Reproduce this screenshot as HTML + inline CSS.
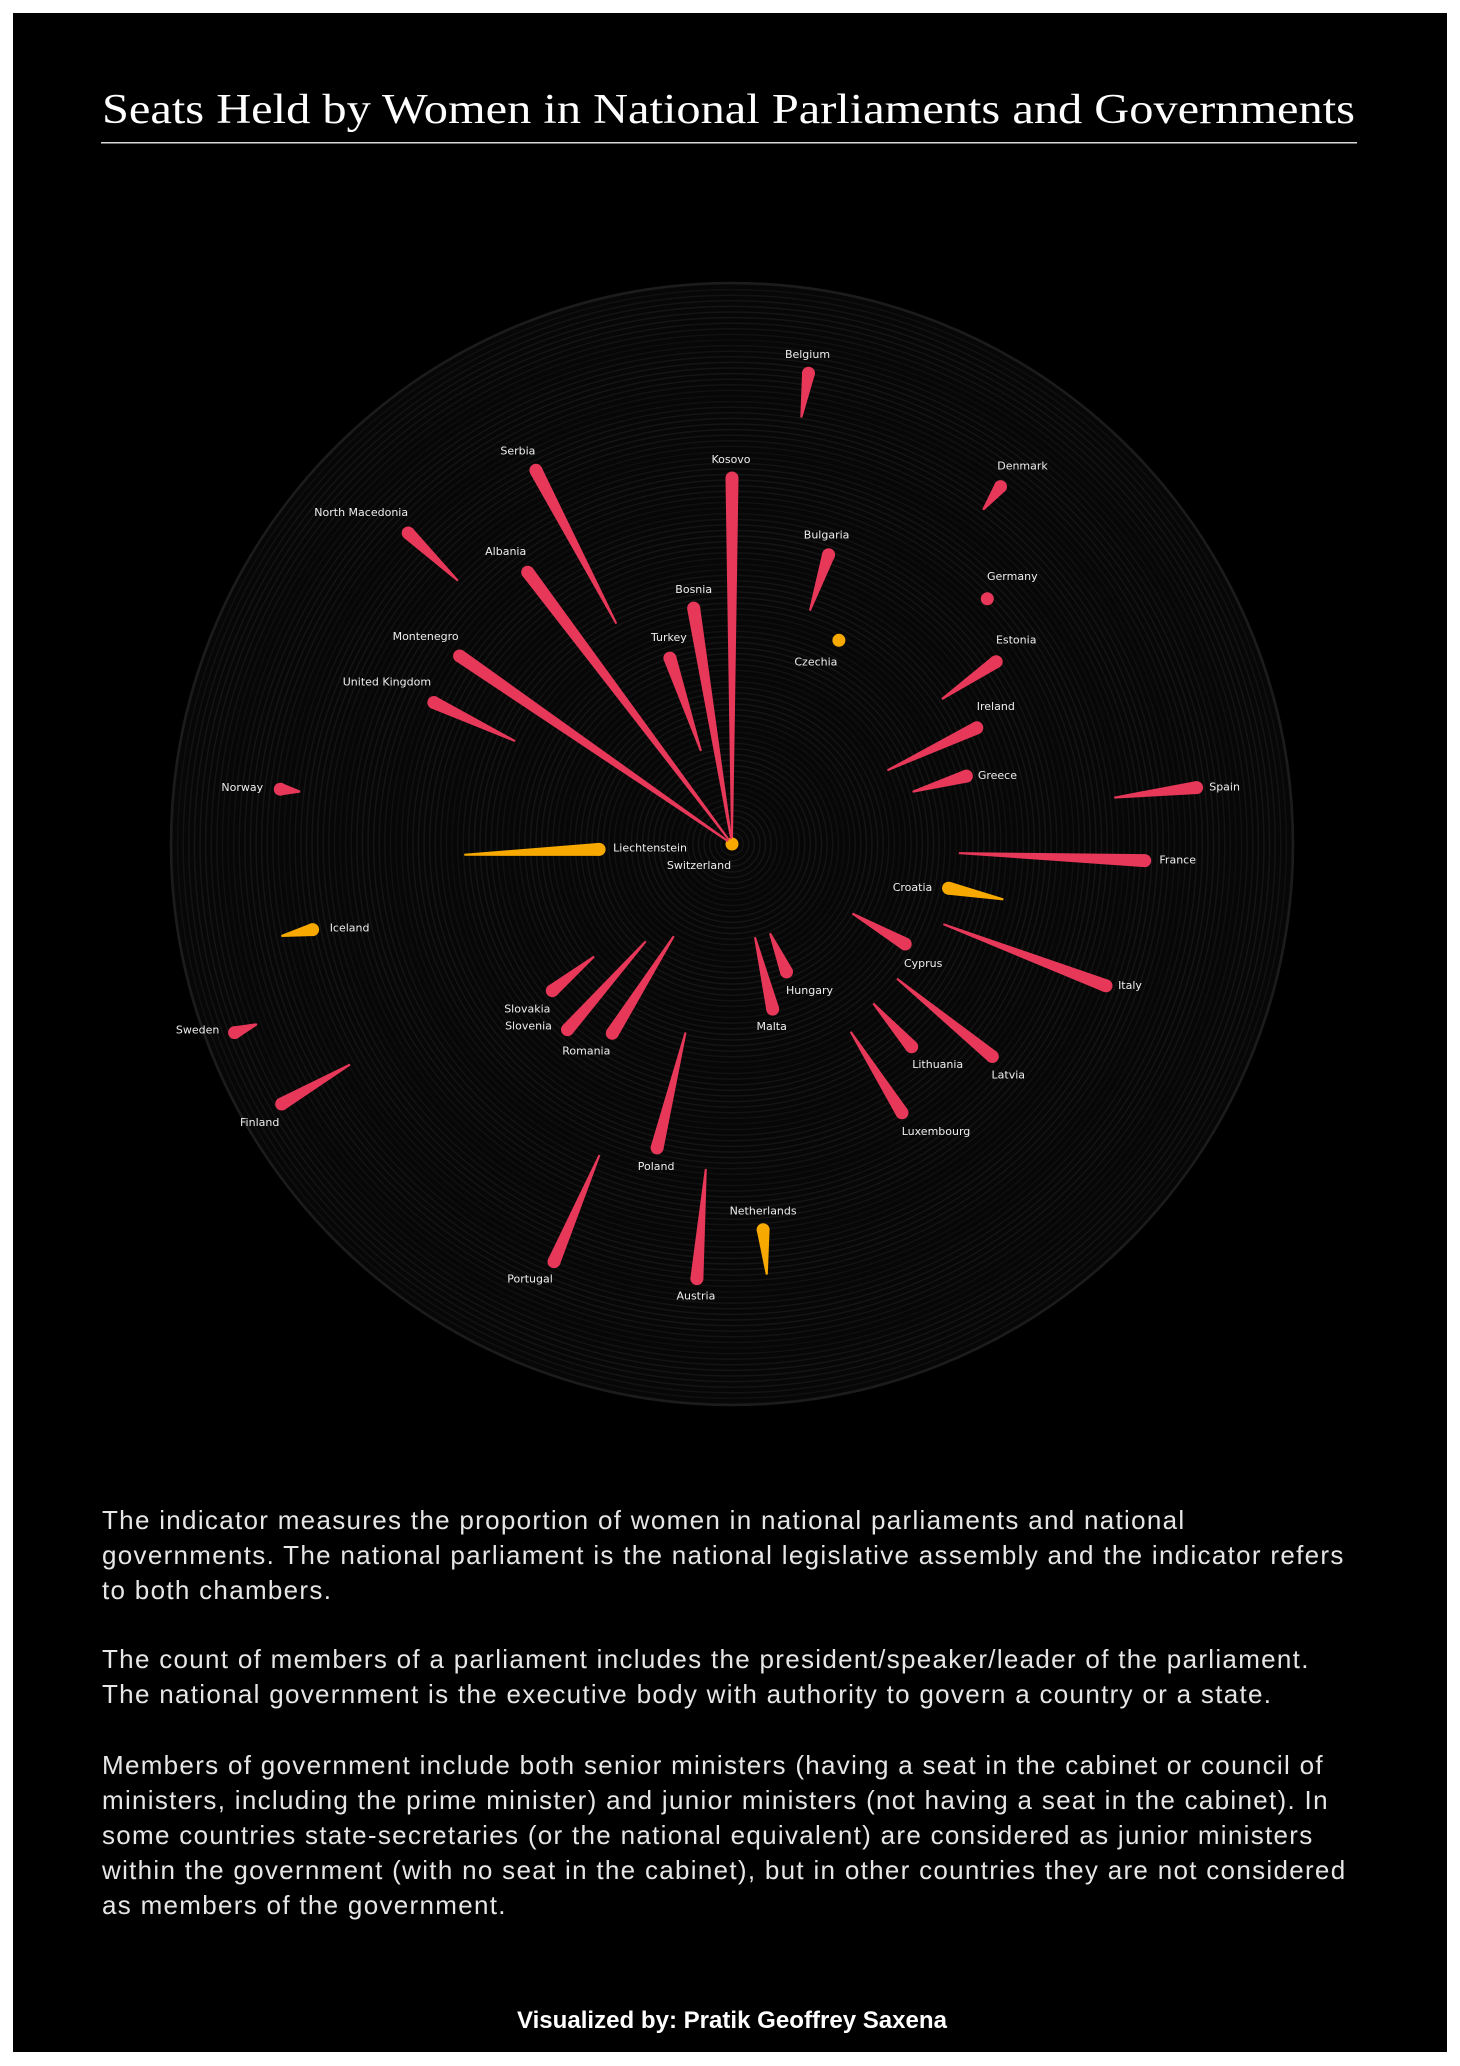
<!DOCTYPE html>
<html><head><meta charset="utf-8">
<style>
html,body{margin:0;padding:0;background:#fff;}
#page{position:absolute;left:13px;top:13px;width:1434px;height:2039px;background:#000;overflow:hidden;}
#chart{position:absolute;left:-13px;top:-13px;}
.para{position:absolute;left:89px;color:#e6e6e6;font-family:"Liberation Sans",sans-serif;font-size:26px;line-height:35px;white-space:nowrap;letter-spacing:1.3px;}
</style></head>
<body>
<div id="page">
<svg id="chart" width="1460" height="2066">
  <text x="102" y="123" font-family="'Liberation Serif',serif" font-size="42" fill="#fff" textLength="1253" lengthAdjust="spacingAndGlyphs">Seats Held by Women in National Parliaments and Governments</text>
  <rect x="101" y="142" width="1256" height="1.5" fill="#d8d8d8"/>
  <g id="rings"></g>
  <g id="marks"></g>
  <g id="labels"></g>
  <text x="732" y="2028" text-anchor="middle" font-family="'Liberation Sans',sans-serif" font-weight="bold" font-size="24" fill="#fff" textLength="430" lengthAdjust="spacingAndGlyphs">Visualized by: Pratik Geoffrey Saxena</text>
</svg>
<div class="para" style="top:1490px">The indicator measures the proportion of women in national parliaments and national<br>governments. The national parliament is the national legislative assembly and the indicator refers<br>to both chambers.</div>
<div class="para" style="top:1629px">The count of members of a parliament includes the president/speaker/leader of the parliament.<br>The national government is the executive body with authority to govern a country or a state.</div>
<div class="para" style="top:1735px">Members of government include both senior ministers (having a seat in the cabinet or council of<br>ministers, including the prime minister) and junior ministers (not having a seat in the cabinet). In<br>some countries state-secretaries (or the national equivalent) are considered as junior ministers<br>within the government (with no seat in the cabinet), but in other countries they are not considered<br>as members of the government.</div>
</div>
<script>
const countries = ["Kosovo","Belgium","Bulgaria","Czechia","Denmark","Germany","Estonia","Ireland","Greece","Spain","France","Croatia","Italy","Cyprus","Latvia","Lithuania","Luxembourg","Hungary","Malta","Netherlands","Austria","Poland","Portugal","Romania","Slovenia","Slovakia","Finland","Sweden","Iceland","Liechtenstein","Norway","Switzerland","United Kingdom","Montenegro","North Macedonia","Albania","Serbia","Turkey","Bosnia"];
const parliament = [36.6,47.7,30.5,23.0,44.7,35.4,32.1,27.1,24.4,46.8,41.3,22.1,40.0,20.0,33.6,27.1,31.8,13.9,17.0,38.7,43.6,31.3,45.4,22.4,24.8,23.2,52.0,53.2,42.8,13.3,45.5,0.0,33.0,33.1,44.9,34.0,42.2,19.6,23.9];
const government = [0.5,43.2,24.6,23.1,41.8,35.0,25.5,17.2,18.8,38.5,22.7,27.7,22.6,13.9,21.3,21.3,22.2,9.7,9.6,43.2,32.6,19.4,33.8,10.9,13.0,17.8,44.1,50.8,46.0,26.8,43.5,0.1,24.0,0.5,38.0,0.5,24.9,9.8,0.5];
const labelDx = [-1,-1,-2,-23,22,25,20,19,31,28,33,-36,24,18,16,26,34,23,-1,0,-1,-1,-24,-26,-39,-25,-22,-37,37,51,-38,-33,-47,-34,-47,-22,-18,-1,0];
const labelDy = [-18,-18,-19,22,-20,-22,-21,-21,0,0,0,0,0,20,19,18,19,19,18,-18,18,19,18,18,-3,19,19,-2,-1,-1,-1,22,-20,-19,-20,-20,-19,-20,-18];

const NS="http://www.w3.org/2000/svg";
const cx=732, cy=844, Rmax=561;
const rScale = v => v*10;
const angle = i => i*2*Math.PI/countries.length;

const rings=document.getElementById('rings');
const bg=document.createElementNS(NS,'circle');
bg.setAttribute('cx',cx);bg.setAttribute('cy',cy);bg.setAttribute('r',Rmax);bg.setAttribute('fill','#070707');


rings.appendChild(bg);
for(let k=1;k*5.6<=Rmax;k++){
  const r=k*5.6;
  const c=document.createElementNS(NS,'circle');
  c.setAttribute('cx',cx);c.setAttribute('cy',cy);c.setAttribute('r',r);c.setAttribute('fill','none');
  const band=(k%10);
  const g = 15 + Math.round(6*Math.sin(band/10*Math.PI));
  c.setAttribute('stroke','rgb('+g+','+g+','+g+')');c.setAttribute('stroke-width','1.5');
  
  
  rings.appendChild(c);
}
const outer=document.createElementNS(NS,'circle');
outer.setAttribute('cx',cx);outer.setAttribute('cy',cy);outer.setAttribute('r',Rmax);outer.setAttribute('fill','none');outer.setAttribute('stroke','#1c1c1c');outer.setAttribute('stroke-width','2.5');


rings.appendChild(outer);

const marks=document.getElementById('marks');
const labels=document.getElementById('labels');
const slug=s=>s.toLowerCase().replace(/\s+/g,'-');
countries.forEach((name,i)=>{
  const a=angle(i);
  const ux=Math.sin(a), uy=-Math.cos(a), px=Math.cos(a), py=Math.sin(a);
  const rT=rScale(parliament[i]), rN=rScale(government[i]);
  const color = government[i]>parliament[i] ? '#f7a900' : '#e8385a';
  const Hx=cx+rT*ux, Hy=cy+rT*uy, Nx=cx+rN*ux, Ny=cy+rN*uy;
  const h=6.5, w=1;
  const g=document.createElementNS(NS,'g');
  
  
  if(Math.abs(rT-rN)>3){
    const poly=document.createElementNS(NS,'polygon');
    poly.setAttribute('points',[
      [Nx+px*w,Ny+py*w],[Hx+px*h,Hy+py*h],[Hx-px*h,Hy-py*h],[Nx-px*w,Ny-py*w]
    ].map(p=>p[0].toFixed(1)+','+p[1].toFixed(1)).join(' '));
    poly.setAttribute('fill',color);
    
    
    g.appendChild(poly);
  }
  const c=document.createElementNS(NS,'circle');
  c.setAttribute('cx',Hx.toFixed(1));c.setAttribute('cy',Hy.toFixed(1));c.setAttribute('r',h);c.setAttribute('fill',color);
  
  
  g.appendChild(c);
  marks.appendChild(g);
  const t=document.createElementNS(NS,'text');
  t.setAttribute('x',(Hx+labelDx[i]).toFixed(1));t.setAttribute('y',(Hy+labelDy[i]).toFixed(1));
  t.setAttribute('text-anchor','middle');t.setAttribute('dominant-baseline','middle');
  t.setAttribute('font-family',"'DejaVu Sans',sans-serif");t.setAttribute('font-size','11');t.setAttribute('fill','#eeeeee');
  t.textContent=name;
  
  
  labels.appendChild(t);
});
</script>
</body></html>
